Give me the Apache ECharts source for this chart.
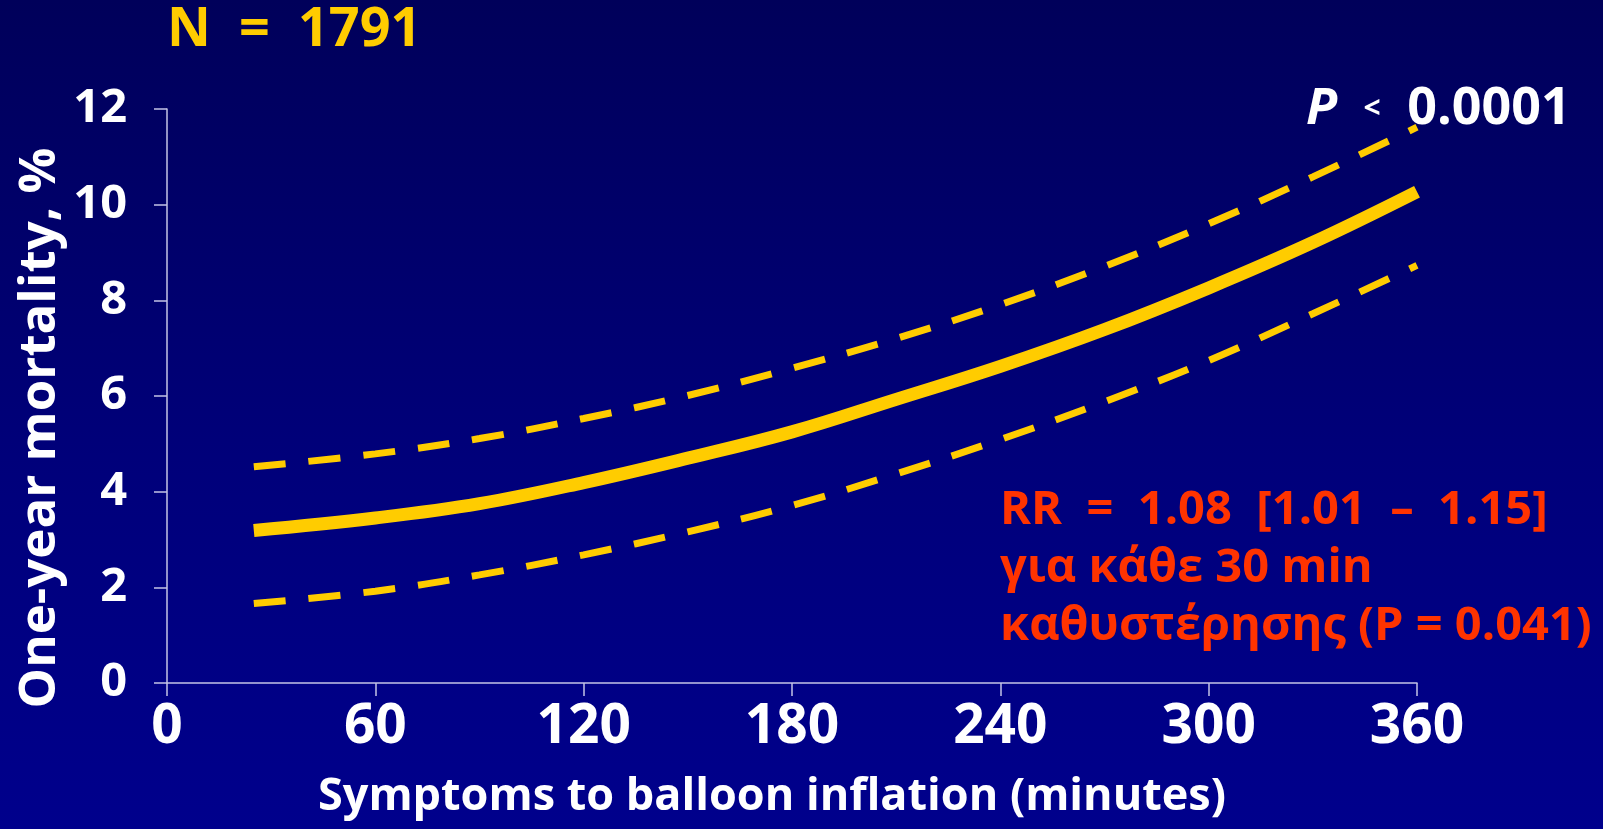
<!DOCTYPE html>
<html>
<head>
<meta charset="utf-8">
<script src="https://cdn.jsdelivr.net/npm/echarts@6/dist/echarts.min.js"></script>
<style>
  html, body { margin: 0; padding: 0; }
  #chart {
    width: 1603px; height: 829px;
    background: linear-gradient(to bottom, #00005a 0%, #00007a 55%, #00008c 100%);
  }
</style>
</head>
<body>
<div id="chart"></div>
<script>
// Symptom-to-balloon delay (minutes) and one-year mortality (%)
const minutes  = [25, 60, 90, 120, 150, 180, 210, 240, 270, 300, 330, 360];
const estimate = [3.19, 3.45, 3.75, 4.19, 4.70, 5.25, 5.93, 6.62, 7.39, 8.26, 9.21, 10.27];
const upperCI  = [4.52, 4.79, 5.11, 5.53, 6.01, 6.58, 7.20, 7.91, 8.71, 9.60, 10.58, 11.62];
const lowerCI  = [1.66, 1.92, 2.26, 2.68, 3.16, 3.71, 4.37, 5.09, 5.88, 6.74, 7.72, 8.73];

const xTicks = [0, 60, 120, 180, 240, 300, 360];
const yTicks = [0, 2, 4, 6, 8, 10, 12];

const FONT = '"Comic Sans MS", "Open Sans", sans-serif';
const YELLOW = '#ffcc00';
const AXIS = '#c4c4e6';

const pairs = (ys) => minutes.map((m, i) => [m, ys[i]]);

const chart = echarts.init(document.getElementById('chart'), null, { renderer: 'canvas' });

chart.setOption({
  backgroundColor: 'transparent',
  animation: false,
  grid: { left: 167, right: 186, top: 109, bottom: 146, containLabel: false },
  xAxis: {
    type: 'value',
    min: xTicks[0], max: xTicks[xTicks.length - 1], interval: 60,
    name: 'Symptoms to balloon inflation (minutes)',
    nameLocation: 'middle', nameGap: 92,
    nameTextStyle: { color: '#ffffff', fontFamily: FONT, fontWeight: 'bold', fontSize: 45, padding: [0, 40, 0, 0] },
    axisLine: { show: true, lineStyle: { color: AXIS, width: 1.5 } },
    axisTick: { show: true, length: 13, inside: false, lineStyle: { color: AXIS, width: 1.5 } },
    splitLine: { show: false },
    axisLabel: { color: '#ffffff', fontFamily: FONT, fontWeight: 'bold', fontSize: 55, margin: 17 }
  },
  yAxis: {
    type: 'value',
    min: yTicks[0], max: yTicks[yTicks.length - 1], interval: 2,
    axisLine: { show: true, lineStyle: { color: AXIS, width: 1.5 } },
    axisTick: { show: true, length: 13, inside: false, lineStyle: { color: AXIS, width: 1.5 } },
    splitLine: { show: false },
    axisLabel: { color: '#ffffff', fontFamily: FONT, fontWeight: 'bold', fontSize: 47, margin: 40 }
  },
  series: [
    {
      name: 'upper', type: 'line', data: pairs(upperCI), smooth: 0.4,
      showSymbol: false, symbol: 'none',
      lineStyle: { color: YELLOW, width: 7, type: [32, 23], cap: 'butt' }
    },
    {
      name: 'lower', type: 'line', data: pairs(lowerCI), smooth: 0.4,
      showSymbol: false, symbol: 'none',
      lineStyle: { color: YELLOW, width: 7, type: [32, 23], cap: 'butt' }
    },
    {
      name: 'estimate', type: 'line', data: pairs(estimate), smooth: 0.4,
      showSymbol: false, symbol: 'none',
      lineStyle: { color: YELLOW, width: 13, cap: 'butt' }
    }
  ],
  graphic: [
    {
      // vertical axis title
      type: 'text', x: 40, y: 428, rotation: Math.PI / 2,
      style: {
        text: 'One-year mortality, %', fill: '#ffffff', font: `bold 51px ${FONT}`,
        align: 'center', verticalAlign: 'middle'
      }
    },
    {
      type: 'text', left: 167, top: 4,
      style: { text: 'N  =  1791', fill: YELLOW, font: `bold 54px ${FONT}` }
    },
    {
      type: 'text', left: 1306, top: 83,
      style: {
        text: '{p|P}  {lt|<}  {v|0.0001}',
        rich: {
          p:  { fill: '#ffffff', fontFamily: FONT, fontWeight: 'bold', fontStyle: 'italic', fontSize: 51 },
          lt: { fill: '#ffffff', fontFamily: FONT, fontWeight: 'bold', fontSize: 30 },
          v:  { fill: '#ffffff', fontFamily: FONT, fontWeight: 'bold', fontSize: 52 }
        },
        fill: '#ffffff', font: `bold 51px ${FONT}`
      }
    },
    {
      type: 'text', left: 1000, top: 482,
      style: {
        text: 'RR  =  1.08  [1.01  \u2013  1.15]\nγια κάθε 30 min\nκαθυστέρησης (P = 0.041)',
        fill: '#ff3300', font: `bold 47px ${FONT}`, lineHeight: 58
      }
    }
  ]
});
</script>
</body>
</html>
